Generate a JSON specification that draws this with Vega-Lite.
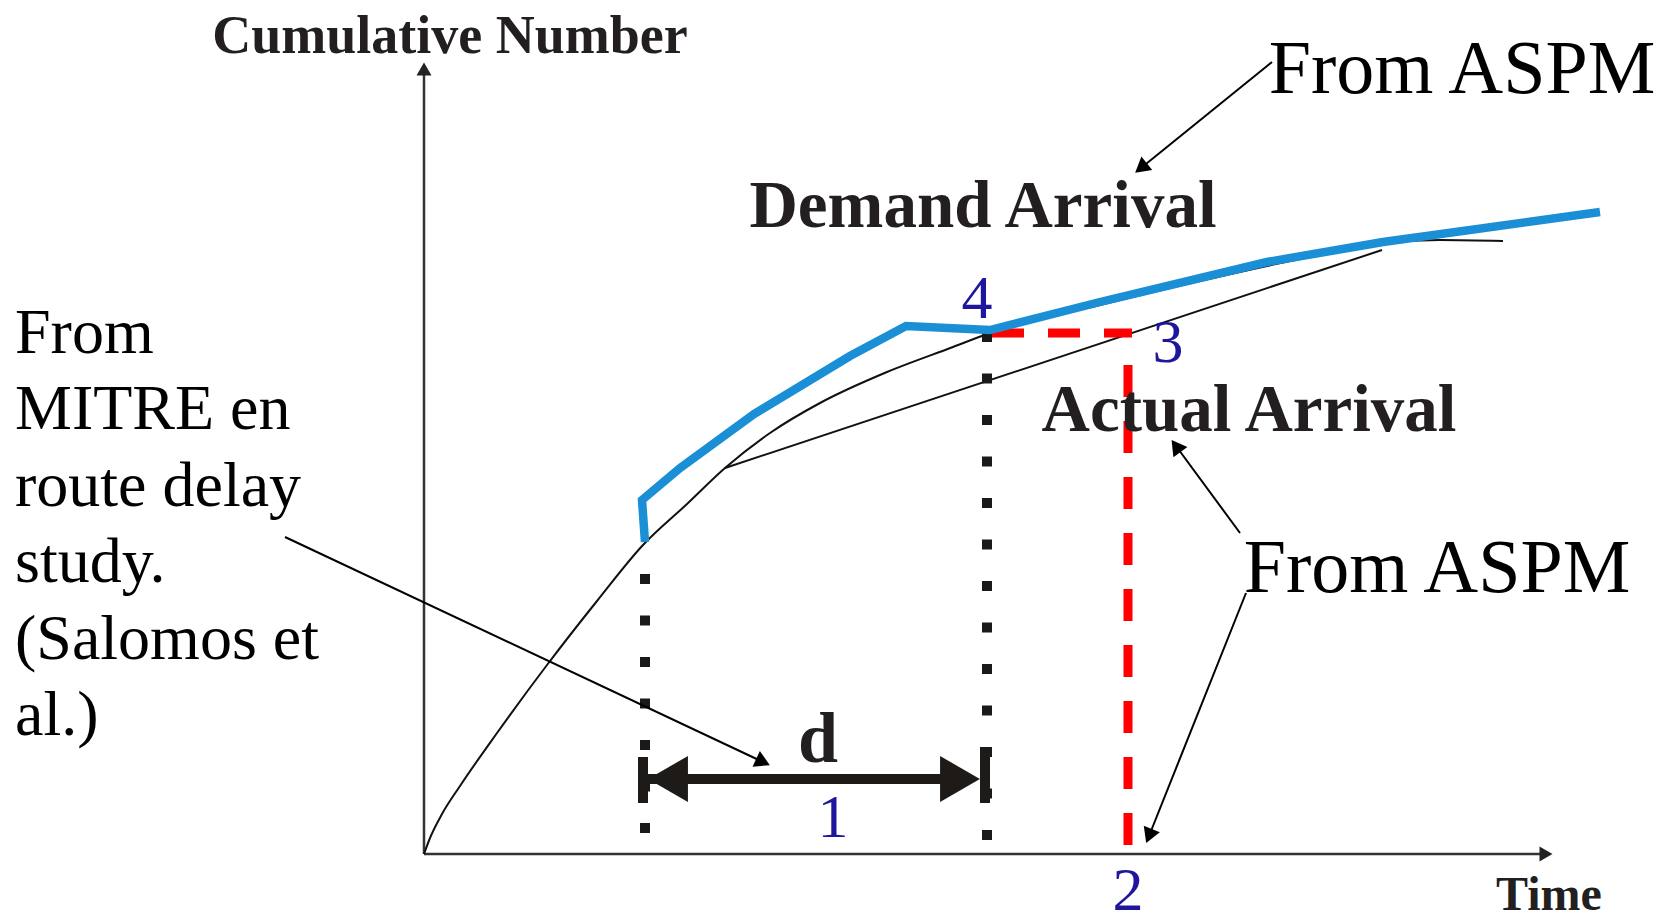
{
 "$schema": "https://vega.github.io/schema/vega-lite/v6.json",
 "width": 1666, "height": 922,
 "autosize": {"type": "none"},
 "padding": 0,
 "background": "white",
 "config": {"view": {"stroke": null}},
 "encoding": {
  "x": {"field": "t", "type": "quantitative", "scale": {"domain": [-424, 1242], "nice": false, "zero": false}, "axis": null},
  "y": {"field": "n", "type": "quantitative", "scale": {"domain": [-68, 854], "nice": false, "zero": false}, "axis": null}
 },
 "layer": [
  {"data": {"values": [{"t": 0, "n": 0, "t2": 0, "n2": 786}, {"t": 0, "n": 0, "t2": 1124, "n2": 0}]},
   "mark": {"type": "rule", "color": "#333333", "strokeWidth": 2.5},
   "encoding": {"x2": {"field": "t2"}, "y2": {"field": "n2"}}},
  {"data": {"values": [{"t": 0, "n": 785}]},
   "mark": {"type": "point", "shape": "triangle-up", "filled": true, "color": "#222222", "size": 225, "angle": 0, "opacity": 1, "strokeWidth": 0}},
  {"data": {"values": [{"t": 1122, "n": 0}]},
   "mark": {"type": "point", "shape": "triangle-up", "filled": true, "color": "#222222", "size": 225, "angle": 90, "opacity": 1, "strokeWidth": 0}},
  {"data": {"values": [
    {"t": 0, "n": 0}, {"t": 6, "n": 16}, {"t": 18, "n": 40}, {"t": 36, "n": 68}, {"t": 73, "n": 121},
    {"t": 123, "n": 189}, {"t": 173, "n": 253}, {"t": 219, "n": 309}, {"t": 263, "n": 350}, {"t": 301, "n": 386},
    {"t": 346, "n": 421}, {"t": 396, "n": 451}, {"t": 463, "n": 482}, {"t": 529, "n": 507}, {"t": 566, "n": 521},
    {"t": 676, "n": 549}, {"t": 776, "n": 573}, {"t": 876, "n": 595}, {"t": 959, "n": 611}, {"t": 1016, "n": 614}, {"t": 1079, "n": 613}]},
   "mark": {"type": "line", "color": "#111111", "strokeWidth": 2, "interpolate": "monotone"}},
  {"data": {"values": [{"t": 301, "n": 386}, {"t": 958, "n": 604}]},
   "mark": {"type": "line", "color": "#111111", "strokeWidth": 2}},
  {"data": {"values": [{"t": 221, "n": 280, "n2": 20}, {"t": 563, "n": 522, "n2": 12}]},
   "mark": {"type": "rule", "color": "#1a1a1a", "strokeWidth": 10, "strokeDash": [10, 31.5], "strokeCap": "butt"},
   "encoding": {"y2": {"field": "n2"}}},
  {"data": {"values": [{"t": 568, "n": 521, "t2": 708, "n2": 521}, {"t": 704, "n": 489, "t2": 704, "n2": 9}]},
   "mark": {"type": "rule", "color": "#ff0000", "strokeWidth": 9, "strokeDash": [32, 24], "strokeCap": "butt"},
   "encoding": {"x2": {"field": "t2"}, "y2": {"field": "n2"}}},
  {"data": {"values": [
    {"i": 0, "t": 221, "n": 312}, {"i": 1, "t": 218, "n": 354}, {"i": 2, "t": 256, "n": 386}, {"i": 3, "t": 330, "n": 440},
    {"i": 4, "t": 426, "n": 498}, {"i": 5, "t": 482, "n": 528}, {"i": 6, "t": 566, "n": 524},
    {"i": 7, "t": 676, "n": 552}, {"i": 8, "t": 843, "n": 592}, {"i": 9, "t": 959, "n": 612}, {"i": 10, "t": 1176, "n": 642}]},
   "mark": {"type": "line", "color": "#1a8fd6", "strokeWidth": 8.5, "strokeJoin": "miter", "strokeCap": "butt"},
   "encoding": {"order": {"field": "i", "type": "quantitative"}}},
  {"data": {"values": [{"t": 224, "n": 75, "t2": 540, "n2": 75}]},
   "mark": {"type": "rule", "color": "#1e1a18", "strokeWidth": 10},
   "encoding": {"x2": {"field": "t2"}, "y2": {"field": "n2"}}},
  {"data": {"values": [{"t": 219, "n": 97, "n2": 51}, {"t": 561, "n": 107, "n2": 51}]},
   "mark": {"type": "rule", "color": "#1e1a18", "strokeWidth": 10},
   "encoding": {"y2": {"field": "n2"}}},
  {"data": {"values": [{"t": 244, "n": 75}]},
   "mark": {"type": "point", "shape": "triangle-up", "filled": true, "color": "#1e1a18", "size": 2116, "angle": 270, "opacity": 1, "strokeWidth": 0}},
  {"data": {"values": [{"t": 536, "n": 75}]},
   "mark": {"type": "point", "shape": "triangle-up", "filled": true, "color": "#1e1a18", "size": 2116, "angle": 90, "opacity": 1, "strokeWidth": 0}},
  {"data": {"values": [
    {"t": 848, "n": 792, "t2": 717, "n2": 686},
    {"t": 816, "n": 321, "t2": 752, "n2": 408},
    {"t": 822, "n": 261, "t2": 725, "n2": 18},
    {"t": -139, "n": 317, "t2": 339, "n2": 92}]},
   "mark": {"type": "rule", "color": "#000000", "strokeWidth": 2},
   "encoding": {"x2": {"field": "t2"}, "y2": {"field": "n2"}}},
  {"data": {"values": [{"t": 717, "n": 686}]},
   "mark": {"type": "point", "shape": "triangle-up", "filled": true, "color": "#000000", "size": 300, "angle": 231, "opacity": 1, "strokeWidth": 0}},
  {"data": {"values": [{"t": 752, "n": 408}]},
   "mark": {"type": "point", "shape": "triangle-up", "filled": true, "color": "#000000", "size": 300, "angle": 324, "opacity": 1, "strokeWidth": 0}},
  {"data": {"values": [{"t": 725, "n": 18}]},
   "mark": {"type": "point", "shape": "triangle-up", "filled": true, "color": "#000000", "size": 300, "angle": 202, "opacity": 1, "strokeWidth": 0}},
  {"data": {"values": [{"t": 339, "n": 92}]},
   "mark": {"type": "point", "shape": "triangle-up", "filled": true, "color": "#000000", "size": 300, "angle": 115, "opacity": 1, "strokeWidth": 0}},
  {"data": {"values": [{"t": 26, "n": 801, "label": "Cumulative Number"}]},
   "mark": {"type": "text", "font": "Liberation Serif", "fontWeight": "bold", "fontSize": 54, "color": "#231f20", "align": "center", "baseline": "alphabetic"},
   "encoding": {"text": {"field": "label"}}},
  {"data": {"values": [{"t": 1125, "n": -56, "label": "Time"}]},
   "mark": {"type": "text", "font": "Liberation Serif", "fontWeight": "bold", "fontSize": 48, "color": "#231f20", "align": "center", "baseline": "alphabetic"},
   "encoding": {"text": {"field": "label"}}},
  {"data": {"values": [{"t": 559, "n": 627, "label": "Demand Arrival"}, {"t": 825, "n": 423, "label": "Actual Arrival"}]},
   "mark": {"type": "text", "font": "Liberation Serif", "fontWeight": "bold", "fontSize": 67, "color": "#231f20", "align": "center", "baseline": "alphabetic"},
   "encoding": {"text": {"field": "label"}}},
  {"data": {"values": [{"t": 394, "n": 92, "label": "d"}]},
   "mark": {"type": "text", "font": "Liberation Serif", "fontWeight": "bold", "fontSize": 72, "color": "#231f20", "align": "center", "baseline": "alphabetic"},
   "encoding": {"text": {"field": "label"}}},
  {"data": {"values": [{"t": 1038, "n": 761, "label": "From ASPM"}, {"t": 1013, "n": 262, "label": "From ASPM"}]},
   "mark": {"type": "text", "font": "Liberation Serif", "fontSize": 76, "color": "#000000", "align": "center", "baseline": "alphabetic"},
   "encoding": {"text": {"field": "label"}}},
  {"data": {"values": [
    {"t": -409, "n": 501, "label": "From"},
    {"t": -409, "n": 425, "label": "MITRE en"},
    {"t": -409, "n": 348, "label": "route delay"},
    {"t": -409, "n": 272, "label": "study."},
    {"t": -409, "n": 195, "label": "(Salomos et"},
    {"t": -409, "n": 119, "label": "al.)"}]},
   "mark": {"type": "text", "font": "Liberation Serif", "fontSize": 64, "color": "#000000", "align": "left", "baseline": "alphabetic"},
   "encoding": {"text": {"field": "label"}}},
  {"data": {"values": [
    {"t": 553, "n": 536, "label": "4"}, {"t": 744, "n": 492, "label": "3"},
    {"t": 409, "n": 17, "label": "1"}, {"t": 704, "n": -56, "label": "2"}]},
   "mark": {"type": "text", "font": "Liberation Serif", "fontSize": 62, "color": "#1f169e", "align": "center", "baseline": "alphabetic"},
   "encoding": {"text": {"field": "label"}}}
 ]
}
